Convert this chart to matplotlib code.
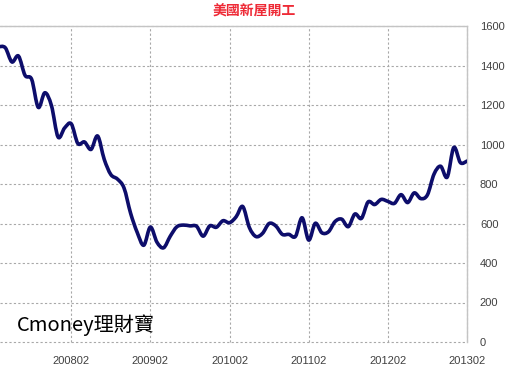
import matplotlib
matplotlib.use("Agg")
import matplotlib.pyplot as plt
from matplotlib.path import Path
from matplotlib.patches import PathPatch

# ─── data: US housing starts (thousands), monthly 2007-03 … 2013-02 ─────────
MONTH_IDX = list(range(72))
STARTS = [
    1495, 1490, 1418, 1448, 1350, 1330, 1188, 1262, 1197, 1038,   # 2007-03 … 2007-12
    1084, 1105, 1005, 1013, 975, 1043, 925, 848, 825, 780, 652, 555,  # 2008
    490, 582, 505, 477, 535, 583, 592, 588, 586, 536, 588, 581,   # 2009
    614, 604, 634, 686, 580, 534, 550, 600, 588, 545, 545, 535,   # 2010
    629, 516, 601, 553, 558, 610, 622, 584, 648, 626, 709, 696,   # 2011
    722, 712, 702, 746, 706, 755, 726, 745, 850, 890, 835, 985,   # 2012
    908, 916,                                                    # 2013-01, 02
]
TICK_IDX = [11, 23, 35, 47, 59, 71]
TICK_LABELS = ["200802", "200902", "201002", "201102", "201202", "201302"]
Y_TICKS = [0, 200, 400, 600, 800, 1000, 1200, 1400, 1600]

TITLE = "美國新屋開工"
WATERMARK = "Cmoney理財寶"

CJK = ["Noto Sans CJK TC", "DejaVu Sans"]
NUM = ["Liberation Sans", "DejaVu Sans"]


def smooth_path(xs, ys, tension=1 / 6):
    """Catmull-Rom style cubic Bezier path through the data points."""
    verts = [(xs[0], ys[0])]
    codes = [Path.MOVETO]
    n = len(xs)
    for i in range(n - 1):
        x0, y0 = xs[max(i - 1, 0)], ys[max(i - 1, 0)]
        x1, y1 = xs[i], ys[i]
        x2, y2 = xs[i + 1], ys[i + 1]
        x3, y3 = xs[min(i + 2, n - 1)], ys[min(i + 2, n - 1)]
        c1 = (x1 + (x2 - x0) * tension, y1 + (y2 - y0) * tension)
        c2 = (x2 - (x3 - x1) * tension, y2 - (y3 - y1) * tension)
        verts += [c1, c2, (x2, y2)]
        codes += [Path.CURVE4] * 3
    return Path(verts, codes)


fig = plt.figure(figsize=(5.07, 3.66), dpi=100)
ax = fig.add_axes([0.0, 1 - 342 / 366, 467 / 507, 316 / 366])

ax.add_patch(PathPatch(smooth_path(MONTH_IDX, STARTS), facecolor="none",
                       edgecolor="#0d0d6b", lw=2.6, joinstyle="round",
                       capstyle="round", zorder=3))

ax.set_xlim(0.2, 71)
ax.set_ylim(0, 1600)
ax.set_xticks(TICK_IDX)
ax.set_xticklabels(TICK_LABELS, family=NUM, fontsize=8, color="#404040")
ax.set_yticks(Y_TICKS)
ax.set_yticklabels([str(v) for v in Y_TICKS], family=NUM, fontsize=8,
                   color="#404040")
ax.yaxis.tick_right()
ax.tick_params(axis="y", length=0, pad=9.3)
ax.tick_params(axis="x", length=0, pad=10)

ax.grid(True, color="#a8a8a8", ls=(0, (2, 2)), lw=0.8)
for g in ax.get_xgridlines() + ax.get_ygridlines():
    g.set_clip_on(False)

for side in ["left", "bottom"]:
    ax.spines[side].set_visible(False)
for side in ["top", "right"]:
    ax.spines[side].set_color("#c4c4c4")
    ax.spines[side].set_linewidth(1.0)

fig.text(254 / 507, 1 - 12 / 366, TITLE, family=CJK, fontsize=10,
         color="#ee2a36", ha="center", va="center", fontweight="bold")
ax.text(17 / 467, (342 - 325) / 316, WATERMARK, transform=ax.transAxes,
        family=CJK, fontsize=14.5, color="black", ha="left", va="center")

fig.savefig("out.png", dpi=100)
